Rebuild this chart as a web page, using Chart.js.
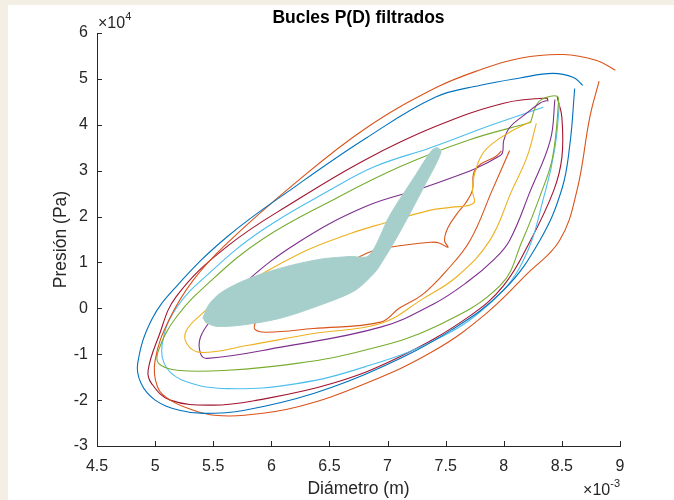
<!DOCTYPE html>
<html>
<head>
<meta charset="utf-8">
<script src="https://cdn.jsdelivr.net/npm/chart.js@4"></script>
<style>
  html, body { margin: 0; padding: 0; background: #f3efe5; }
  #wrap { position: absolute; left: 8px; top: 5px; width: 666px; height: 495px; background: #fff; }
</style>
</head>
<body>
<div id="wrap"><canvas id="bucles" width="666" height="495"></canvas></div>
<script>
// diametro en 1e-3 m, presion en 1e4 Pa
const xTicks = [4.5, 5, 5.5, 6, 6.5, 7, 7.5, 8, 8.5, 9];
const yTicks = [-3, -2, -1, 0, 1, 2, 3, 4, 5, 6];

const loopBlue = [[8.68,4.86],[8.6,5.03],[8.42,5.12],[8.14,5.02],[7.8,4.86],[7.41,4.6],[6.81,3.7],[6.22,2.68],[5.62,1.56],[5.18,0.47],[4.97,-0.25],[4.85,-1.2],[4.88,-1.64],[5.0,-2.0],[5.21,-2.22],[5.42,-2.29],[5.77,-2.22],[6.37,-1.85],[6.96,-1.27],[7.55,-0.47],[8.0,0.4],[8.31,1.48],[8.5,2.6],[8.57,3.6],[8.61,4.79]];
const loopOrange = [[8.96,5.19],[8.8,5.4],[8.51,5.53],[8.14,5.45],[7.8,5.2],[7.41,4.8],[6.81,3.92],[6.22,2.76],[5.62,1.42],[5.33,0.62],[5.12,-0.25],[5.0,-1.13],[5.02,-1.71],[5.13,-2.0],[5.33,-2.22],[5.51,-2.33],[5.77,-2.33],[6.22,-2.15],[6.81,-1.64],[7.41,-0.91],[7.85,-0.11],[8.2,0.75],[8.48,1.48],[8.63,2.57],[8.74,4.16],[8.82,4.95]];
const loopRed = [[8.38,4.51],[8.37,4.58],[8.0,4.47],[7.41,3.96],[6.81,3.24],[6.22,2.36],[5.62,1.35],[5.18,0.25],[5.03,-0.62],[4.94,-1.35],[4.97,-1.64],[5.13,-2.0],[5.5,-2.11],[5.88,-2.0],[6.52,-1.64],[7.11,-1.05],[7.7,-0.18],[8.0,0.5],[8.23,1.48],[8.43,2.57],[8.5,3.29],[8.5,4.16],[8.46,4.6]];
const loopCyan = [[8.34,4.38],[7.9,4.0],[7.37,3.5],[6.9,3.1],[6.52,2.6],[5.92,1.7],[5.48,0.8],[5.18,0.0],[5.06,-0.8],[5.1,-1.3],[5.27,-1.6],[5.62,-1.75],[6.22,-1.64],[6.81,-1.27],[7.41,-0.69],[7.85,0.04],[8.16,1.0],[8.36,2.57],[8.44,3.5],[8.48,4.47]];
const loopGreen = [[8.23,4.05],[7.7,3.67],[7.11,3.09],[6.52,2.35],[5.92,1.5],[5.48,0.6],[5.18,-0.2],[5.03,-0.91],[5.03,-1.2],[5.19,-1.35],[5.62,-1.35],[6.22,-1.2],[6.81,-0.91],[7.41,-0.4],[7.97,0.5],[8.16,1.48],[8.33,2.57],[8.42,3.29],[8.47,4.47],[8.46,4.62],[8.37,4.6],[8.29,4.47],[8.23,4.05]];
const loopPurple = [[8.37,4.53],[8.31,4.47],[8.17,4.2],[8.05,3.94],[8.0,3.66],[7.97,3.33],[7.37,2.68],[6.81,2.22],[6.22,1.42],[5.77,0.55],[5.5,-0.2],[5.39,-0.63],[5.39,-0.98],[5.45,-1.09],[6.07,-0.85],[6.94,-0.41],[7.4,0.1],[7.7,0.6],[7.91,1.05],[8.05,1.48],[8.23,2.57],[8.4,3.66],[8.44,4.55]];
const loopYellow = [[8.28,4.03],[8.2,3.3],[8.07,2.57],[7.88,1.48],[7.6,0.7],[7.3,0.2],[6.94,-0.33],[6.36,-0.55],[5.79,-0.81],[5.39,-0.96],[5.27,-0.76],[5.27,-0.48],[5.39,-0.15],[5.58,0.24],[6.25,1.2],[6.68,1.63],[6.96,1.85],[7.37,2.14],[7.54,2.2],[7.74,2.29],[7.73,2.57],[7.75,2.94],[7.82,3.38],[7.94,3.66],[8.08,3.88],[8.23,4.07]];
const loopOrange2 = [[7.98,3.43],[7.93,3.31],[7.8,3.14],[7.74,2.94],[7.73,2.57],[7.67,2.29],[7.6,2.07],[7.52,1.76],[7.49,1.48],[7.52,1.33],[7.45,1.42],[7.37,1.44],[7.02,1.33],[6.82,1.2],[6.4,0.6],[6.0,0.0],[5.88,-0.25],[5.86,-0.46],[5.96,-0.52],[6.36,-0.44],[6.94,-0.3],[7.1,0.0],[7.3,0.3],[7.5,0.8],[7.71,1.48],[7.9,2.57],[8.05,3.44]];
const mancha = [[5.41,-0.22],[5.46,0.07],[5.56,0.33],[5.77,0.61],[6.07,0.87],[6.42,1.07],[6.68,1.13],[6.84,1.15],[7.02,2.03],[7.24,2.9],[7.38,3.44],[7.43,3.5],[7.46,3.4],[7.32,2.68],[7.09,1.59],[6.95,1.0],[6.89,0.78],[6.72,0.39],[6.42,0.07],[6.07,-0.22],[5.73,-0.37],[5.52,-0.39],[5.43,-0.3]];

const series = [
  { pts: loopBlue, color: "#0072BD" },
  { pts: loopOrange, color: "#D95319" },
  { pts: loopYellow, color: "#EDB120" },
  { pts: loopPurple, color: "#7E2F8E" },
  { pts: loopGreen, color: "#77AC30" },
  { pts: loopCyan, color: "#4DBEEE" },
  { pts: loopRed, color: "#A2142F" },
  { pts: loopOrange2, color: "#D95319" }
];

const toXY = arr => arr.map(p => ({ x: p[0], y: p[1] }));

const datasets = series.map(s => ({
  data: toXY(s.pts),
  borderColor: s.color,
  borderWidth: 1.1,
  showLine: true,
  pointRadius: 0,
  tension: 0.4,
  fill: false,
  order: 2
}));

datasets.push({
  data: toXY(mancha),
  borderColor: "#a6cfcb",
  backgroundColor: "#a6cfcb",
  borderWidth: 1,
  showLine: true,
  pointRadius: 0,
  tension: 0.3,
  fill: "shape",
  order: 0
});

const FONT = "'Liberation Sans', Arial, sans-serif";
const INK = "#262626";

// ticks hacia dentro, titulo y exponentes estilo MATLAB
const matlabAxes = {
  id: "matlabAxes",
  afterDraw(chart) {
    const { ctx, chartArea: a, scales } = chart;
    ctx.save();
    ctx.strokeStyle = INK;
    ctx.lineWidth = 1;
    ctx.beginPath();
    xTicks.forEach(v => {
      const px = Math.round(scales.x.getPixelForValue(v)) + 0.5;
      ctx.moveTo(px, a.bottom);
      ctx.lineTo(px, a.bottom - 5);
    });
    yTicks.forEach(v => {
      const py = Math.round(scales.y.getPixelForValue(v)) + 0.5;
      ctx.moveTo(a.left, py);
      ctx.lineTo(a.left + 5, py);
    });
    ctx.stroke();

    ctx.fillStyle = "#000";
    ctx.font = "bold 17.5px " + FONT;
    ctx.textAlign = "center";
    ctx.textBaseline = "middle";
    ctx.fillText("Bucles P(D) filtrados", (a.left + a.right) / 2, 13);

    ctx.fillStyle = INK;
    ctx.textAlign = "left";
    ctx.textBaseline = "alphabetic";
    ctx.font = "16px " + FONT;
    ctx.fillText("\u00d710", a.left + 1, a.top - 5);
    let w = ctx.measureText("\u00d710").width;
    ctx.font = "11px " + FONT;
    ctx.fillText("4", a.left + 1 + w, a.top - 13);

    ctx.textAlign = "right";
    ctx.font = "11px " + FONT;
    const sup = ctx.measureText("-3").width;
    ctx.fillText("-3", a.right, a.bottom + 41);
    ctx.font = "16px " + FONT;
    ctx.fillText("\u00d710", a.right - sup, a.bottom + 49);
    ctx.restore();
  }
};

new Chart("bucles", {
  type: "scatter",
  data: { datasets: datasets },
  options: {
    responsive: false,
    animation: false,
    layout: { padding: { top: 28, right: 54, left: 0, bottom: 0 } },
    plugins: { legend: { display: false }, tooltip: { enabled: false }, title: { display: false } },
    scales: {
      x: {
        type: "linear",
        min: 4.5,
        max: 9,
        afterFit: s => { s.height = 54; },
        afterBuildTicks: s => { s.ticks = xTicks.map(v => ({ value: v })); },
        grid: { display: false },
        border: { display: true, color: INK, width: 1 },
        ticks: { color: INK, font: { family: FONT, size: 16 }, padding: 3, maxRotation: 0, callback: v => String(v) },
        title: { display: true, text: "Diámetro (m)", color: INK, font: { family: FONT, size: 17.5 }, padding: { top: 0, bottom: 0 } }
      },
      y: {
        type: "linear",
        min: -3,
        max: 6,
        afterFit: s => { s.width = 89; },
        afterBuildTicks: s => { s.ticks = yTicks.map(v => ({ value: v })); },
        grid: { display: false },
        border: { display: true, color: INK, width: 1 },
        ticks: { color: INK, font: { family: FONT, size: 16 }, padding: 1, callback: v => String(v) },
        title: { display: true, text: "Presión (Pa)", color: INK, font: { family: FONT, size: 17.5 }, padding: { top: 43, bottom: 0 } }
      }
    }
  },
  plugins: [matlabAxes]
});
</script>
</body>
</html>
